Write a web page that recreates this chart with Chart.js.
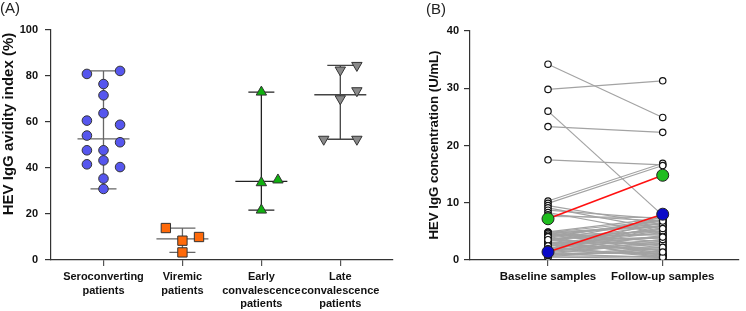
<!DOCTYPE html>
<html><head><meta charset="utf-8">
<script src="https://cdn.jsdelivr.net/npm/chart.js@4.4.1/dist/chart.umd.min.js"></script>
<style>
body{margin:0;background:#fff;width:746px;height:311px;overflow:hidden;position:relative;font-family:"Liberation Sans",Arial,sans-serif}
#wa{position:absolute;left:0;top:0;width:400px;height:311px}
#wb{position:absolute;left:400px;top:0;width:346px;height:311px}
.pl{position:absolute;font-size:15px;color:#222;line-height:15px}
</style></head><body>
<div id="wa"><canvas id="ca" width="400" height="311"></canvas></div>
<div id="wb"><canvas id="cb" width="346" height="311"></canvas></div>
<div class="pl" style="left:0px;top:0px">(A)</div>
<div class="pl" style="left:426px;top:1px">(B)</div>
<script>
// ---------- Panel A data ----------
const groupLabels = [["Seroconverting","patients"],["Viremic","patients"],["Early","convalescence","patients"],["Late","convalescence","patients"]];
const seroValues   = [80.9, 82.2, 76.5, 71.6, 63.8, 60.6, 58.8, 54.1, 51.2, 47.7, 47.7, 43.3, 41.6, 40.4, 35.4, 30.9];
const seroColumns  = [-1, 1, 0, 0, 0, -1, 1, -1, 1, -1, 0, 0, -1, 1, 0, 0];
const viremicValues  = [13.9, 10.0, 8.4, 3.3];
const viremicColumns = [-1, 1, 0, 0];
const earlyValues  = [73.0, 33.6, 34.8, 21.7];
const earlyColumns = [0, 0, 1, 0];
const lateValues   = [82.6, 84.6, 73.6, 70.1, 52.5, 52.5];
const lateColumns  = [0, 1, 1, 0, -1, 1];
const yTicksA = [0, 20, 40, 60, 80, 100];

// ---------- Panel B data ----------
const pairLabels = ["Baseline samples", "Follow-up samples"];
const baselineValues = [34.2, 29.8, 26.0, 23.3, 17.5, 10.3, 9.9, 9.5, 9.1, 8.7, 8.3, 7.9, 7.6, 4.9, 4.8, 4.7, 4.6, 4.5, 4.4, 4.3, 4.2, 4.0, 3.9, 3.8, 3.6, 3.5, 3.3, 3.2, 3.0, 2.9, 2.7, 2.6, 2.4, 2.3, 2.1, 2.0, 1.8, 1.7, 1.5, 1.3, 1.1, 1.0, 0.9, 0.7, 0.6, 0.5,
  4.85, 4.65, 4.35, 4.1, 3.7, 3.4, 3.1, 2.8, 2.5, 2.2, 1.9, 1.6, 1.4, 1.2, 0.8, 4.05, 3.55, 2.45, 1.95, 0.95];
const followupValues = [24.9, 31.3, 7.8, 22.3, 16.6, 16.9, 16.5, 6.2, 5.4, 7.2, 4.6, 6.8, 7.4, 7.3, 6.9, 5.8, 3.2, 6.5, 2.1, 5.0, 4.4, 7.0, 1.2, 3.8, 5.3, 2.6, 6.1, 0.8, 4.1, 3.0, 5.6, 1.8, 4.8, 0.5, 3.5, 6.6, 2.3, 1.0, 4.3, 2.8, 0.4, 3.3, 1.5, 0.6, 2.0, 0.3,
  5.9, 2.4, 6.3, 0.9, 4.6, 7.1, 1.6, 3.9, 5.1, 0.7, 2.9, 6.0, 3.6, 1.1, 2.2, 6.8, 0.5, 4.0, 5.5, 1.4];
const highlightBaseline = [7.2, 1.4];
const highlightFollowup = [14.8, 8.0];
const highlightColors = ["#1fbd1f", "#0a0ac8"];
const yTicksB = [0, 10, 20, 30, 40];

// ---------- styles ----------
const FONT = "'Liberation Sans', Arial, sans-serif";
const tickFont = {family: FONT, size: 11, weight: 'bold'};
const xTickFontA = {family: FONT, size: 11, weight: 'bold', lineHeight: 1.25};
const xTickFontB = {family: FONT, size: 11.5, weight: 'bold'};
const COLW = 0.21;
const groups = [
  {values: seroValues, cols: seroColumns, style: 'circle', color: '#5656ee', rot: 0, r: 4.8, line: '#666'},
  {values: viremicValues, cols: viremicColumns, style: 'rect', color: '#ff6a0a', rot: 0, r: 6.6, line: '#666'},
  {values: earlyValues, cols: earlyColumns, style: 'triangle', color: '#10b010', rot: 0, r: 6, line: '#222'},
  {values: lateValues, cols: lateColumns, style: 'triangle', color: '#8a8a8a', rot: 180, r: 6, line: '#444'}
];
function median(a){const s=[...a].sort((x,y)=>x-y);const n=s.length;return n%2?s[(n-1)/2]:(s[n/2-1]+s[n/2])/2;}

const yTitlePlugin = {
  id: 'ytitle',
  afterDraw(chart, args, opts) {
    const ctx = chart.ctx;
    ctx.save();
    ctx.translate(opts.x, opts.y);
    ctx.rotate(-Math.PI/2);
    ctx.font = `bold ${opts.size}px ${FONT}`;
    ctx.fillStyle = '#111';
    ctx.textAlign = 'center';
    ctx.textBaseline = 'middle';
    ctx.fillText(opts.text, 0, 0);
    ctx.restore();
  }
};

const barsPlugin = {
  id: 'medianBars',
  beforeDatasetsDraw(chart) {
    const ctx = chart.ctx, xs = chart.scales.x, ys = chart.scales.y;
    groups.forEach((g, i) => {
      const cx = xs.getPixelForValue(i + 1);
      const lo = ys.getPixelForValue(Math.min(...g.values));
      const hi = ys.getPixelForValue(Math.max(...g.values));
      const md = ys.getPixelForValue(median(g.values));
      ctx.save();
      ctx.strokeStyle = g.line; ctx.lineWidth = 1.3;
      ctx.beginPath();
      ctx.moveTo(cx, lo); ctx.lineTo(cx, hi);
      ctx.moveTo(cx - 13, lo); ctx.lineTo(cx + 13, lo);
      ctx.moveTo(cx - 13, hi); ctx.lineTo(cx + 13, hi);
      ctx.moveTo(cx - 26, md); ctx.lineTo(cx + 26, md);
      ctx.stroke();
      ctx.restore();
    });
  }
};

new Chart(document.getElementById('ca'), {
  type: 'scatter',
  data: {
    datasets: groups.map((g, i) => ({
      data: g.values.map((v, k) => ({x: i + 1 + g.cols[k] * COLW, y: v})),
      pointStyle: g.style, pointRotation: g.rot, pointRadius: g.r, pointHoverRadius: g.r,
      backgroundColor: g.color, borderColor: '#333', borderWidth: 1
    }))
  },
  options: {
    responsive: false, animation: false, devicePixelRatio: 1,
    layout: {padding: {top: 30, right: 3, left: 0, bottom: 0}},
    plugins: {legend: {display: false}, tooltip: {enabled: false},
      ytitle: {text: 'HEV IgG avidity index (%)', x: 9, y: 124, size: 15}},
    scales: {
      x: {type: 'linear', min: 0.335, max: 4.66,
        afterBuildTicks: s => { s.ticks = [1,2,3,4].map(v => ({value: v})); },
        afterFit: s => { s.height = 51; },
        ticks: {callback: v => groupLabels[v - 1], font: xTickFontA, color: '#111', padding: 4, maxRotation: 0, autoSkip: false},
        grid: {drawOnChartArea: false, tickLength: 6, color: '#555', lineWidth: 1.2},
        border: {color: '#333', width: 1.2}},
      y: {min: 0, max: 100,
        afterBuildTicks: s => { s.ticks = yTicksA.map(v => ({value: v})); },
        afterFit: s => { s.width = 51; },
        ticks: {font: tickFont, color: '#111', padding: 7},
        grid: {drawOnChartArea: false, tickLength: 6, color: '#333', lineWidth: 1.2},
        border: {color: '#333', width: 1.2}}
    }
  },
  plugins: [barsPlugin, yTitlePlugin]
});

// ---------- Panel B ----------
const dsB = [];
baselineValues.forEach((b, i) => {
  dsB.push({type: 'line', data: [{x: 1, y: b}, {x: 2, y: followupValues[i]}],
    borderColor: '#a3a3a3', borderWidth: 1.2, pointRadius: 0, order: 5});
});
highlightBaseline.forEach((b, i) => {
  dsB.push({type: 'line', data: [{x: 1, y: b}, {x: 2, y: highlightFollowup[i]}],
    borderColor: '#ff1010', borderWidth: 1.6, pointRadius: 0, order: 3});
});
dsB.push({type: 'scatter',
  data: baselineValues.map(v => ({x: 1, y: v})).concat(followupValues.map(v => ({x: 2, y: v}))),
  pointRadius: 3.2, pointHoverRadius: 3.2, backgroundColor: '#fff', borderColor: '#111', borderWidth: 1.2, order: 2});
highlightBaseline.forEach((b, i) => {
  dsB.push({type: 'scatter', data: [{x: 1, y: b}, {x: 2, y: highlightFollowup[i]}],
    pointRadius: 6, pointHoverRadius: 6, backgroundColor: highlightColors[i], borderColor: '#222', borderWidth: 1, order: 1});
});

new Chart(document.getElementById('cb'), {
  type: 'scatter',
  data: {datasets: dsB},
  options: {
    responsive: false, animation: false, devicePixelRatio: 1,
    layout: {padding: {top: 31, right: 0, left: 0, bottom: 0}},
    plugins: {legend: {display: false}, tooltip: {enabled: false},
      ytitle: {text: 'HEV IgG concentration (U/mL)', x: 34, y: 145, size: 13.2}},
    scales: {
      x: {type: 'linear', min: 0.32, max: 2.665,
        afterBuildTicks: s => { s.ticks = [1,2].map(v => ({value: v})); },
        afterFit: s => { s.height = 51; },
        ticks: {callback: v => pairLabels[v - 1], font: xTickFontB, color: '#111', padding: 4, maxRotation: 0, autoSkip: false},
        grid: {drawOnChartArea: false, tickLength: 6, color: '#555', lineWidth: 1.2},
        border: {color: '#333', width: 1.2}},
      y: {min: 0, max: 40,
        afterBuildTicks: s => { s.ticks = yTicksB.map(v => ({value: v})); },
        afterFit: s => { s.width = 70; },
        ticks: {font: tickFont, color: '#111', padding: 5},
        grid: {drawOnChartArea: false, tickLength: 6, color: '#333', lineWidth: 1.2},
        border: {color: '#333', width: 1.2}}
    }
  },
  plugins: [yTitlePlugin]
});
</script>
</body></html>
